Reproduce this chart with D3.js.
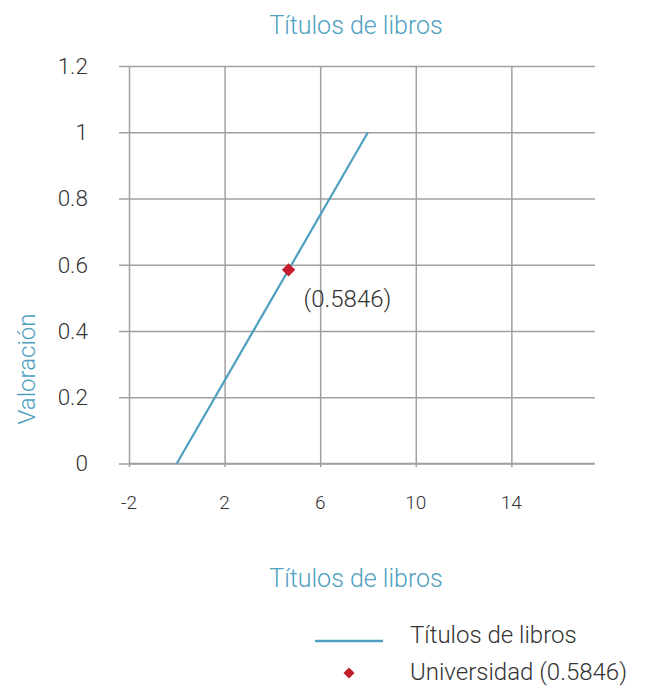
<!DOCTYPE html>
<html><head><meta charset="utf-8">
<script src="https://cdn.jsdelivr.net/npm/d3@7"></script>
<style>body{margin:0;background:#fff}</style>
</head><body>
<script>
const lineX = [0, 8];
const lineY = [0, 1];
const pointX = [4.6768];
const pointY = [0.5846];
const pointLabel = ["(0.5846)"];
const xTicks = [-2, 2, 6, 10, 14];
const yTicks = [0, 0.2, 0.4, 0.6, 0.8, 1, 1.2];
const yTickLabels = ["0", "0.2", "0.4", "0.6", "0.8", "1", "1.2"];
const legendLabels = ["Títulos de libros", "Universidad (0.5846)"];

const W = 654, H = 686;
const blue = "#4f9fc0", red = "#c41e2e", grid = "#a0a0a0", txt = "#333333";
const font = "Roboto, 'DejaVu Sans', sans-serif";
const svg = d3.select("body").append("svg").attr("width", W).attr("height", H)
  .style("font-family", font).style("font-weight", 300);

const x = d3.scaleLinear().domain([-2, 17.5]).range([129, 595]);
const y = d3.scaleLinear().domain([0, 1.2]).range([463.5, 66]);

// horizontal gridlines
const gy = svg.append("g").attr("transform", "translate(595,0)")
  .call(d3.axisLeft(y).tickValues(yTicks).tickSize(595-119).tickFormat(""));
gy.select(".domain").remove();
gy.selectAll("line").attr("stroke", grid).attr("stroke-width", 1.5);

// vertical gridlines
const gx = svg.append("g").attr("transform", "translate(0,467)")
  .call(d3.axisBottom(x).tickValues(xTicks).tickSize(-(467-66)).tickFormat(""));
gx.select(".domain").remove();
gx.selectAll("line").attr("stroke", grid).attr("stroke-width", 1.5);

// x axis baseline
svg.append("line").attr("x1", x(-2)).attr("x2", 595).attr("y1", y(0)).attr("y2", y(0))
  .attr("stroke", grid).attr("stroke-width", 1.5);

// y tick labels
svg.append("g").selectAll("text").data(yTicks).join("text")
  .attr("x", 88).attr("y", d => y(d)).attr("dy", "0.35em")
  .attr("text-anchor", "end").attr("font-size", 22.5).attr("fill", txt)
  .text((d,i) => yTickLabels[i]);

// x tick labels
svg.append("g").selectAll("text").data(xTicks).join("text")
  .attr("x", d => x(d)).attr("y", 502).attr("dy", "0.35em")
  .attr("text-anchor", "middle").attr("font-size", 19).attr("fill", txt)
  .text(d => d < 0 ? "-" + Math.abs(d) : d);

// line
const pts = lineX.map((d,i) => [d, lineY[i]]);
svg.append("path").datum(pts)
  .attr("d", d3.line().x(d => x(d[0])).y(d => y(d[1])))
  .attr("fill", "none").attr("stroke", blue).attr("stroke-width", 2.2);

// point
const sym = d3.symbol().type(d3.symbolSquare).size(90);
svg.append("g").selectAll("path").data(pointX).join("path")
  .attr("d", sym)
  .attr("transform", (d,i) => `translate(${x(d)},${y(pointY[i])}) rotate(45)`)
  .attr("fill", red);
svg.append("g").selectAll("text").data(pointX).join("text")
  .attr("x", (d) => x(d) + 15).attr("y", (d,i) => y(pointY[i]) + 29)
  .attr("dy", "0.35em").attr("font-size", 24).attr("fill", txt)
  .text((d,i) => pointLabel[i]);

// titles
svg.append("text").attr("x", 356).attr("y", 25).attr("dy", "0.35em")
  .attr("text-anchor", "middle").attr("font-size", 25).attr("fill", blue)
  .text("Títulos de libros");
svg.append("text").attr("x", 356).attr("y", 578).attr("dy", "0.35em")
  .attr("text-anchor", "middle").attr("font-size", 25).attr("fill", blue)
  .text("Títulos de libros");
svg.append("text").attr("transform", "translate(27,369) rotate(-90)").attr("dy", "0.35em")
  .attr("text-anchor", "middle").attr("font-size", 24).attr("fill", blue)
  .text("Valoración");

// legend
svg.append("line").attr("x1", 315).attr("x2", 383).attr("y1", 641).attr("y2", 641)
  .attr("stroke", blue).attr("stroke-width", 2.5);
svg.append("path").attr("d", d3.symbol().type(d3.symbolSquare).size(60))
  .attr("transform", "translate(349,673) rotate(45)").attr("fill", red);
svg.append("g").selectAll("text").data(legendLabels).join("text")
  .attr("x", 410).attr("y", (d,i) => 635 + i*37).attr("dy", "0.35em")
  .attr("font-size", 24).attr("fill", txt).text(d => d);
</script>
</body></html>
